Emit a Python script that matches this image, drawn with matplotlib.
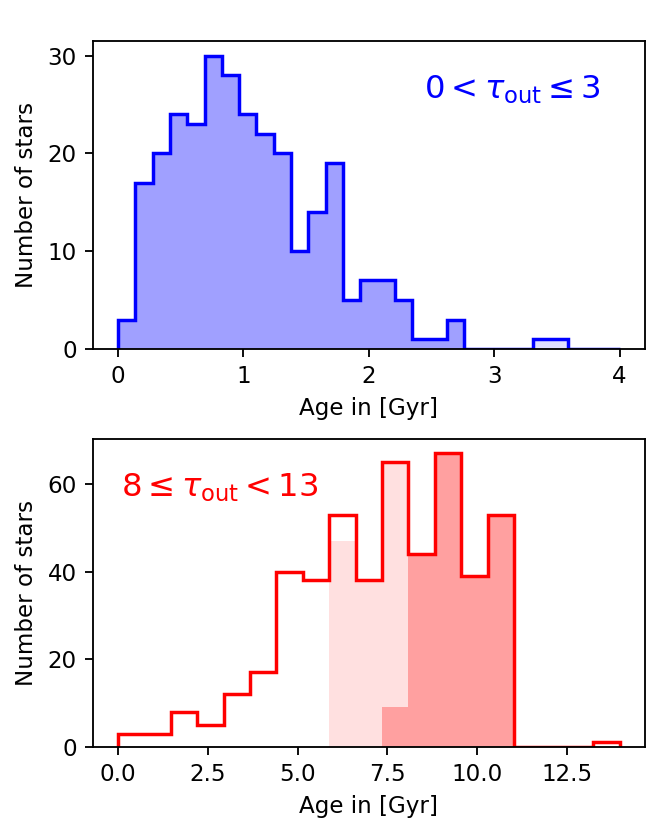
import numpy as np
import matplotlib
matplotlib.use('Agg')
import matplotlib.pyplot as plt

# top panel: 0 < tau_out <= 3, 29 bins over 0-4 Gyr
young_range = (0.0, 4.0)
young_all = [3, 17, 20, 24, 23, 30, 28, 24, 22, 20, 10, 14, 19, 5, 7,
             7, 5, 1, 1, 3, 0, 0, 0, 0, 1, 1, 0, 0, 0]
young_sel = [3, 17, 20, 24, 23, 30, 28, 24, 22, 20, 10, 14, 19, 5, 7,
             7, 5, 1, 1, 3, 0, 0, 0, 0, 0, 0, 0, 0, 0]

# bottom panel: 8 <= tau_out < 13, 19 bins over 0-13.96 Gyr
old_range = (0.0, 13.96)
old_all = [3, 3, 8, 5, 12, 17, 40, 38, 53, 38, 65, 44, 67, 39, 53, 0, 0, 0, 1]
old_light = [0, 0, 0, 0, 0, 0, 0, 0, 47, 38, 65, 0, 0, 0, 0, 0, 0, 0, 0]
old_dark = [0, 0, 0, 0, 0, 0, 0, 0, 0, 0, 9, 44, 67, 39, 53, 0, 0, 0, 0]

young_edges = np.linspace(young_range[0], young_range[1], len(young_all) + 1)
old_edges = np.linspace(old_range[0], old_range[1], len(old_all) + 1)

fig, (ax1, ax2) = plt.subplots(2, 1, figsize=(4, 5), dpi=166)
fig.subplots_adjust(left=0.14, right=0.971, top=0.9506, bottom=0.1004,
                    hspace=0.292)

# top
ax1.stairs(young_all, young_edges, fill=True, color='#e0e0ff', lw=0)
ax1.stairs(young_sel, young_edges, fill=True, color='#a0a0ff', lw=0)
ax1.stairs(young_all, young_edges, color='blue', lw=1.5)
ax1.set_xlim(-0.2, 4.2)
ax1.set_ylim(0, 31.5)
ax1.set_xticks([0, 1, 2, 3, 4])
ax1.set_yticks([0, 10, 20, 30])
ax1.set_xlabel('Age in [Gyr]')
ax1.set_ylabel('Number of stars')
ax1.text(0.76, 0.84, r'$0 < \tau_{\mathrm{out}} \leq 3$', color='blue',
         fontsize=14, ha='center', va='center', transform=ax1.transAxes)

# bottom
ax2.stairs(old_light, old_edges, fill=True, color='#ffe0e0', lw=0)
ax2.stairs(old_dark, old_edges, fill=True, color='#ffa0a0', lw=0)
ax2.stairs(old_all, old_edges, color='red', lw=1.5)
ax2.set_xlim(-0.698, 14.66)
ax2.set_ylim(0, 70.35)
ax2.set_yticks([0, 20, 40, 60])
ax2.set_xlabel('Age in [Gyr]')
ax2.set_ylabel('Number of stars')
ax2.text(0.229, 0.84, r'$8 \leq \tau_{\mathrm{out}} < 13$', color='red',
         fontsize=14, ha='center', va='center', transform=ax2.transAxes)

fig.savefig('out.png', dpi=166)
